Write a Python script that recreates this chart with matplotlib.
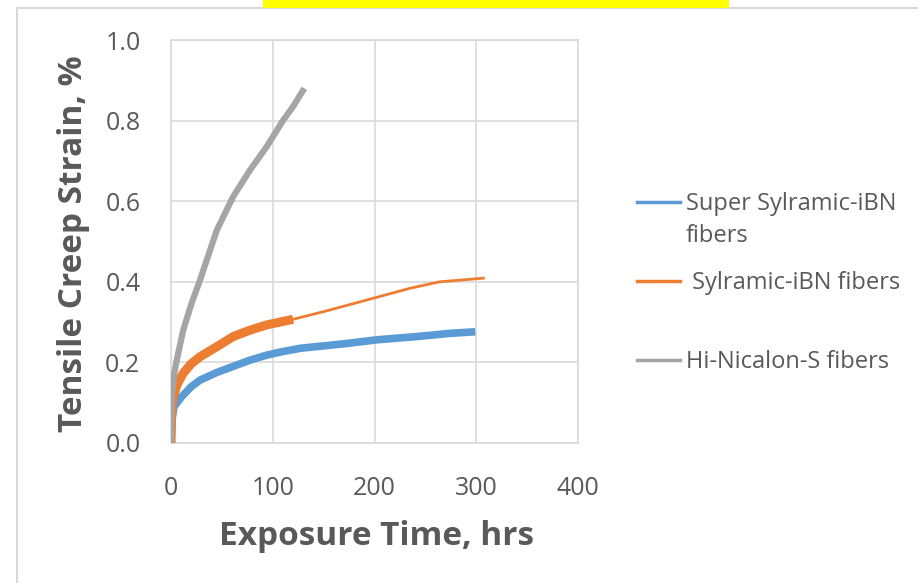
import matplotlib.pyplot as plt
from matplotlib.lines import Line2D
from matplotlib.patches import Rectangle

plt.rcParams['font.family'] = ['Open Sans', 'DejaVu Sans']

# Hi-Nicalon-S fibers
gray_t = [0, 0.5, 1, 3, 6, 12, 20, 28.5, 45, 61, 77.6, 94, 110, 120, 131]
gray_y = [0, 0.08, 0.12, 0.17, 0.21, 0.28, 0.345, 0.404, 0.528, 0.611, 0.677, 0.735, 0.80, 0.835, 0.88]

# Sylramic-iBN fibers (dense noisy part up to ~120 hrs, then sparse)
orange_t = [0, 0.5, 1, 2.3, 6, 12, 20, 28.5, 45, 61, 77.6, 94, 107, 120, 150, 200, 235, 264, 307]
orange_y = [0, 0.06, 0.09, 0.115, 0.145, 0.173, 0.197, 0.214, 0.239, 0.264, 0.28, 0.293, 0.30, 0.307,
            0.326, 0.36, 0.384, 0.40, 0.409]
orange_dense = 14

# Super Sylramic-iBN fibers
blue_t = [0, 1, 3, 6, 10.5, 20, 28.5, 45, 61, 77, 94, 110, 127, 150, 173, 202, 241, 274, 299]
blue_y = [0, 0.06, 0.09, 0.10, 0.115, 0.14, 0.156, 0.175, 0.19, 0.205, 0.218, 0.227, 0.235, 0.241,
          0.247, 0.256, 0.264, 0.272, 0.276]

labels = ["Super Sylramic-iBN\nfibers", " Sylramic-iBN fibers", "Hi-Nicalon-S fibers"]
colors = ["#5B9BD5", "#ED7D31", "#A5A5A5"]
text_color = "#595959"
grid_color = "#D9D9D9"

fig = plt.figure(figsize=(9.18, 5.83), dpi=100)
W, H = 918, 583

# chart border and yellow strip at top
fig.patches.append(Rectangle((17 / W, -0.1), 1.2, 1 - 8 / H + 0.1, transform=fig.transFigure,
                             fill=False, edgecolor=grid_color, linewidth=1.5))
fig.patches.append(Rectangle((263 / W, 1 - 8 / H), (729 - 263) / W, 8 / H, transform=fig.transFigure,
                             facecolor="#FFFF00", edgecolor="none"))

ax = fig.add_axes([171 / W, (H - 443) / H, 407 / W, 403 / H])

ax.plot(blue_t, blue_y, color=colors[0], lw=5.5, zorder=2, solid_capstyle='butt')
ax.plot(orange_t, orange_y, color=colors[1], lw=2.0, zorder=3)
ax.plot(orange_t[:orange_dense], orange_y[:orange_dense], color=colors[1], lw=6.5, zorder=3,
        solid_capstyle='butt')
ax.plot(gray_t, gray_y, color=colors[2], lw=4.5, zorder=4, solid_capstyle='butt')

ax.set_xlim(0, 400)
ax.set_ylim(0, 1.0)
ax.set_xticks([0, 100, 200, 300, 400])
ax.set_yticks([0, 0.2, 0.4, 0.6, 0.8, 1.0])
ax.set_yticklabels(["0.0", "0.2", "0.4", "0.6", "0.8", "1.0"])
ax.grid(True, color=grid_color, lw=1.2)
ax.set_axisbelow(True)
for s in ax.spines.values():
    s.set_color(grid_color)
    s.set_linewidth(1.2)
ax.tick_params(length=0, labelsize=18, colors=text_color)
ax.tick_params(axis='y', pad=22)
ax.tick_params(axis='x', pad=24)

ax.set_xlabel("Exposure Time, hrs", fontsize=24, fontweight='bold', color=text_color)
ax.set_ylabel("Tensile Creep Strain, %", fontsize=24, fontweight='bold', color=text_color)
ax.xaxis.set_label_coords(0.506, -0.192)
ax.yaxis.set_label_coords(-0.20, 0.494)

# legend drawn by hand to keep Excel's uneven spacing
leg_y = [202, 281, 360]
for lab, c, yy in zip(labels, colors, leg_y):
    fig.add_artist(Line2D([637 / W, 680 / W], [1 - yy / H, 1 - yy / H], transform=fig.transFigure,
                          color=c, lw=2.5))
    fig.text(686 / W, 1 - (yy - 10) / H, lab, fontsize=17, color=text_color, va='top', ha='left',
             linespacing=1.42)

fig.savefig("out.png", dpi=100)
